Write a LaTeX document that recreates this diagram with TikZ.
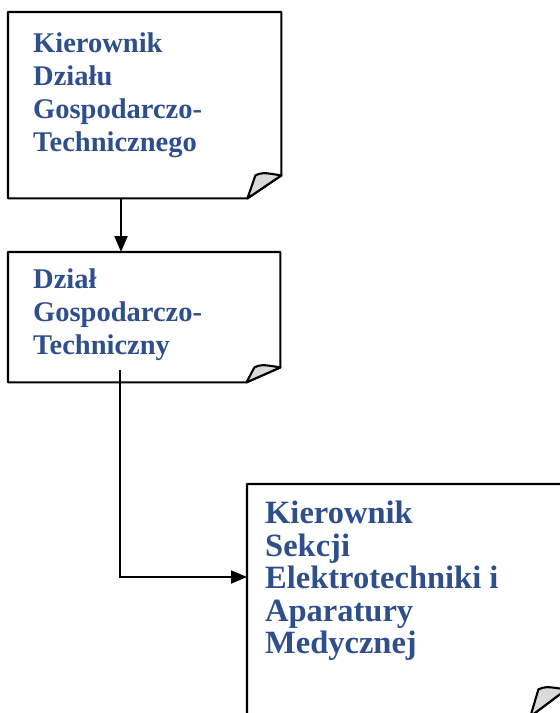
\documentclass[tikz,border=0pt]{standalone}
\usepackage{fontspec}
\setmainfont{Liberation Serif}
\usetikzlibrary{arrows.meta}

\definecolor{orgblue}{RGB}{46,78,140}
\definecolor{foldgray}{RGB}{218,218,218}

% frame with a curled corner round a node: node, fold width, fold height
\newcommand{\docframe}[3]{%
  \draw[frame] (#1.north west) -- (#1.north east) -- ([yshift=#3]#1.south east)
    -- ([xshift=-#2]#1.south east) -- (#1.south west) -- cycle;
  \filldraw[frame,fill=foldgray] ([xshift=-#2]#1.south east)
    -- ([xshift=-#2+8pt,yshift=#3]#1.south east)
    .. controls ([xshift=-#2+15pt,yshift=#3+3pt]#1.south east) .. ([yshift=#3]#1.south east) -- cycle;
}

\begin{document}
\begin{tikzpicture}[x=1pt,y=-1pt,
  frame/.style={line width=2.1pt,line join=round},
  box/.style={inner sep=0pt,anchor=north west},
  doctext/.style={inner sep=0pt,anchor=north west,align=left,text=orgblue},
  arr/.style={line width=2pt,-{Triangle[length=16pt,width=13pt]}}]

  \useasboundingbox (0,0) rectangle (560,713);
  \clip (0,0) rectangle (560,713);

  \node[box,minimum width=273pt,minimum height=186pt] (kdgt) at (8,12) {};
  \node[doctext,font=\fontsize{28.5}{33}\selectfont\bfseries] (kdgt-t)
    at ([xshift=25pt,yshift=-21pt]kdgt.north west) {Kierownik\\Działu\\Gospodarczo-\\Technicznego};

  \node[box,minimum width=272pt,minimum height=130pt] (dgt) at (8,252) {};
  \node[doctext,font=\fontsize{28.5}{33}\selectfont\bfseries] (dgt-t)
    at ([xshift=25pt,yshift=-17pt]dgt.north west) {Dział\\Gospodarczo-\\Techniczny};

  \node[box,minimum width=319pt,minimum height=232pt] (ksea) at (247,484) {};
  \node[doctext,font=\fontsize{32.5}{32.5}\selectfont\bfseries] (ksea-t)
    at ([xshift=18pt,yshift=-17pt]ksea.north west) {Kierownik\\Sekcji\\Elektrotechniki i\\Aparatury\\Medycznej};

  \docframe{kdgt}{34pt}{23pt}
  \docframe{dgt}{34pt}{15pt}
  \docframe{ksea}{36pt}{27pt}

  \draw[arr] ([xshift=113pt]kdgt.south west) -- ([xshift=113pt]dgt.north west);
  \draw[arr] ([xshift=112pt,yshift=12pt]dgt.south west) |- ([yshift=-93pt]ksea.north west);

\end{tikzpicture}
\end{document}
